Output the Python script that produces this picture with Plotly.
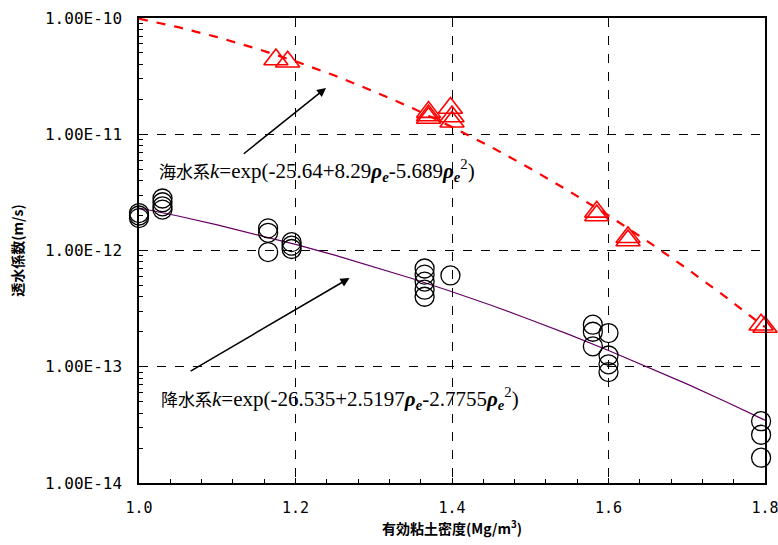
import plotly.graph_objects as go

# ---- data ----
rain_x = [1.0, 1.0, 1.0, 1.03, 1.03, 1.03, 1.03,
          1.165, 1.165, 1.165, 1.195, 1.195, 1.195,
          1.365, 1.365, 1.365, 1.365, 1.365, 1.398,
          1.58, 1.58, 1.58, 1.60, 1.60, 1.60, 1.60,
          1.795, 1.795, 1.795]
rain_k = [2.1e-12, 2.0e-12, 1.9e-12, 2.8e-12, 2.6e-12, 2.4e-12, 2.25e-12,
          1.55e-12, 1.42e-12, 9.7e-13, 1.18e-12, 1.1e-12, 1.03e-12,
          7.0e-13, 6.2e-13, 5.4e-13, 4.6e-13, 4.0e-13, 6.1e-13,
          2.3e-13, 2.0e-13, 1.5e-13, 1.95e-13, 1.25e-13, 1.05e-13, 9.0e-14,
          3.4e-14, 2.6e-14, 1.65e-14]

sea_x = [1.175, 1.19, 1.37, 1.37, 1.37, 1.398, 1.40, 1.40,
         1.585, 1.585, 1.625, 1.625, 1.795, 1.80]
sea_k = [4.4e-11, 4.2e-11, 1.55e-11, 1.45e-11, 1.38e-11, 1.68e-11, 1.42e-11, 1.28e-11,
         2.15e-12, 2.0e-12, 1.3e-12, 1.22e-12, 2.3e-13, 2.2e-13]

fit_x = [1.0, 1.05, 1.1, 1.15, 1.2, 1.25, 1.3, 1.35, 1.4, 1.45, 1.5,
         1.55, 1.6, 1.65, 1.7, 1.75, 1.8]
sea_fit = [9.87e-11, 8.34e-11, 6.85e-11, 5.46e-11, 4.24e-11, 3.20e-11, 2.34e-11,
           1.67e-11, 1.155e-11, 7.77e-12, 5.08e-12, 3.23e-12, 2.00e-12,
           1.20e-12, 7.0e-13, 3.97e-13, 2.19e-13]
rain_fit = [2.32e-12, 1.98e-12, 1.66e-12, 1.38e-12, 1.13e-12, 9.13e-13, 7.27e-13,
            5.71e-13, 4.42e-13, 3.38e-13, 2.54e-13, 1.89e-13, 1.38e-13,
            9.99e-14, 7.12e-14, 5.0e-14, 3.47e-14]

x_ticks = [1.0, 1.2, 1.4, 1.6, 1.8]
x_ticktext = ["1.0", "1.2", "1.4", "1.6", "1.8"]
y_ticks = [1e-14, 1e-13, 1e-12, 1e-11, 1e-10]
y_ticktext = ["1.00E-14", "1.00E-13", "1.00E-12", "1.00E-11", "1.00E-10"]

y_minor = [m * 10.0 ** e for e in range(-14, -10) for m in range(2, 10)]
x_minor = [1.04, 1.08, 1.12, 1.16, 1.24, 1.28, 1.32, 1.36, 1.44, 1.48, 1.52, 1.56,
           1.64, 1.68, 1.72, 1.76]

cjk_span = '<span style="font-size:17px">{}</span>'
sea_label = (cjk_span.format("海水系") +
             "<i>k</i>=exp(-25.64+8.29<i><b>ρ<sub>e</sub></b></i>-5.689<i><b>ρ<sub>e</sub></b></i><sup>2</sup>)")
rain_label = (cjk_span.format("降水系") +
              "<i>k</i>=exp(-26.535+2.5197<i><b>ρ<sub>e</sub></b></i>-2.7755<i><b>ρ<sub>e</sub></b></i><sup>2</sup>)")

ytick_font = dict(family="DejaVu Sans Mono, monospace", size=16, color="black")
xtick_font = dict(family="DejaVu Sans Mono, monospace", size=15, color="black")
cjk_bold = dict(family="Noto Sans CJK JP, sans-serif", size=14, color="black")
serif = dict(family="Liberation Serif, Noto Sans CJK JP, serif", size=21, color="black")

fig = go.Figure()
fig.add_trace(go.Scatter(x=fit_x, y=sea_fit, mode="lines",
                         line=dict(color="#FF0000", width=2.2, dash="dash"),
                         showlegend=False, hoverinfo="skip"))
fig.add_trace(go.Scatter(x=fit_x, y=rain_fit, mode="lines",
                         line=dict(color="#660066", width=1.2),
                         showlegend=False, hoverinfo="skip"))
fig.add_trace(go.Scatter(x=rain_x, y=rain_k, mode="markers", cliponaxis=False,
                         marker=dict(symbol="circle-open", size=19, color="black",
                                     line=dict(width=1.3, color="black")),
                         showlegend=False))
fig.add_trace(go.Scatter(x=sea_x, y=sea_k, mode="markers", cliponaxis=False,
                         marker=dict(symbol="triangle-up-open", size=21, color="#FF0000",
                                     line=dict(width=1.6, color="#FF0000")),
                         showlegend=False))

annotations = [
    dict(x=1.239, y=-10.602, ax=1.132, ay=-11.178, xref="x", yref="y", axref="x", ayref="y",
         showarrow=True, arrowhead=2, arrowsize=1.2, arrowwidth=1.5, arrowcolor="black", text=""),
    dict(x=1.269, y=-12.237, ax=1.064, ay=-13.045, xref="x", yref="y", axref="x", ayref="y",
         showarrow=True, arrowhead=2, arrowsize=1.2, arrowwidth=1.5, arrowcolor="black", text=""),
    dict(x=1.023, y=-11.31, xref="x", yref="y", text=sea_label, showarrow=False,
         xanchor="left", yanchor="middle", font=serif),
    dict(x=1.026, y=-13.27, xref="x", yref="y", text=rain_label, showarrow=False,
         xanchor="left", yanchor="middle", font=serif),
]

fig.update_layout(
    width=778, height=545,
    margin=dict(l=139, r=13, t=18, b=62),
    paper_bgcolor="white", plot_bgcolor="white",
    annotations=annotations,
    xaxis=dict(range=[1.0, 1.8], tickmode="array", tickvals=x_ticks, ticktext=x_ticktext,
               automargin=False, ticklabeloverflow="allow",
               tickfont=xtick_font, showline=True, linecolor="black", linewidth=1.5, mirror=True,
               ticks="inside", ticklen=5, tickcolor="black", ticklabelstandoff=10,
               showgrid=True, gridcolor="black", griddash="dash", gridwidth=1,
               minor=dict(tickmode="array", tickvals=x_minor, ticks="inside", ticklen=4,
                          tickcolor="black", showgrid=False),
               zeroline=False,
               title=dict(text="<b>有効粘土密度(Mg/m<sup>3</sup>)</b>", font=cjk_bold, standoff=4)),
    yaxis=dict(type="log", range=[-14, -10], tickmode="array", tickvals=y_ticks, ticktext=y_ticktext,
               automargin=False, ticklabeloverflow="allow",
               tickfont=ytick_font, showline=True, linecolor="black", linewidth=1.5, mirror=True,
               ticks="inside", ticklen=5, tickcolor="black", ticklabelstandoff=12,
               showgrid=True, gridcolor="black", griddash="dash", gridwidth=1,
               minor=dict(tickmode="array", tickvals=y_minor, ticks="inside", ticklen=4,
                          tickcolor="black", showgrid=False),
               zeroline=False,
               title=dict(text="<b>透水係数(m/s)</b>", font=cjk_bold, standoff=18)),
)

fig.write_html("out.html", config={"displayModeBar": False},
               post_script="document.body.style.margin='0';document.body.style.overflow='hidden';")
